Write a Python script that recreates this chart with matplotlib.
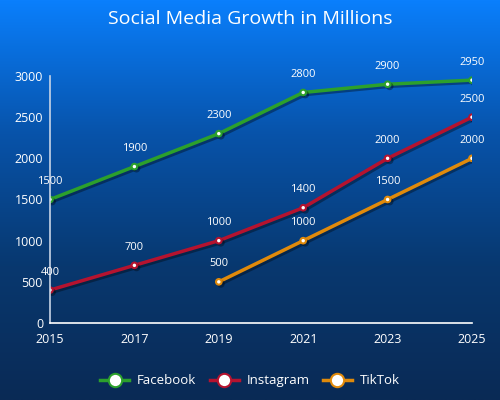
import numpy as np
import matplotlib.pyplot as plt
import matplotlib.patheffects as pe
from matplotlib.colors import LinearSegmentedColormap

years = [2015, 2017, 2019, 2021, 2023, 2025]
facebook = [1500, 1900, 2300, 2800, 2900, 2950]
instagram = [400, 700, 1000, 1400, 2000, 2500]
tiktok_years = [2019, 2021, 2023, 2025]
tiktok = [500, 1000, 1500, 2000]

series = [
    ('Facebook', years, facebook, '#2ca02c'),
    ('Instagram', years, instagram, '#b5132f'),
    ('TikTok', tiktok_years, tiktok, '#e08a0b'),
]

plt.rcParams['font.family'] = ['Open Sans', 'DejaVu Sans']

fig = plt.figure(figsize=(5, 4), dpi=100)

# gradient background
bg = fig.add_axes([0, 0, 1, 1], zorder=-10)
cmap = LinearSegmentedColormap.from_list('bg', ['#0a7ffc', '#0753aa', '#08386f', '#0a2a55'])
grad = np.linspace(0, 1, 256).reshape(-1, 1)
bg.imshow(grad, aspect='auto', cmap=cmap, extent=[0, 1, 0, 1])
bg.axis('off')

ax = fig.add_axes([0.1, 0.1925, 0.844, 0.6175])
ax.patch.set_alpha(0)

shadow = [pe.SimpleLineShadow(offset=(1.5, -1.5), alpha=0.35), pe.Normal()]
for name, xs, ys, col in series:
    ax.plot(xs, ys, color=col, lw=2.5, marker='o', ms=4, mfc='white', mec=col,
            mew=1.5, label=name, path_effects=shadow)
    for x, y in zip(xs, ys):
        ax.annotate(str(y), (x, y), xytext=(0, 9), textcoords='offset points',
                    ha='center', va='bottom', color='white', fontsize=8)

ax.set_xlim(2015, 2025)
ax.set_ylim(0, 3000)
ax.set_xticks(years)
ax.set_yticks(range(0, 3001, 500))
ax.tick_params(colors='white', labelsize=9, length=0)
ax.tick_params(axis='x', pad=7)
ax.tick_params(axis='y', pad=5)
for s in ['top', 'right']:
    ax.spines[s].set_visible(False)
ax.spines['left'].set_color('#c8d4e6')
ax.spines['bottom'].set_color('white')
ax.spines['left'].set_linewidth(1.2)
ax.spines['bottom'].set_linewidth(1.2)

fig.text(0.5, 0.953, 'Social Media Growth in Millions', ha='center', va='center',
         color='white', fontsize=14)

leg = fig.legend(loc='center', bbox_to_anchor=(0.5, 0.048), ncol=3, frameon=False,
                 fontsize=9.5, labelcolor='white', markerscale=2.4,
                 handlelength=2.2, columnspacing=1.0, handletextpad=0.6)
for h in leg.legend_handles:
    h.set_path_effects([])

fig.savefig('out.png', dpi=100)
